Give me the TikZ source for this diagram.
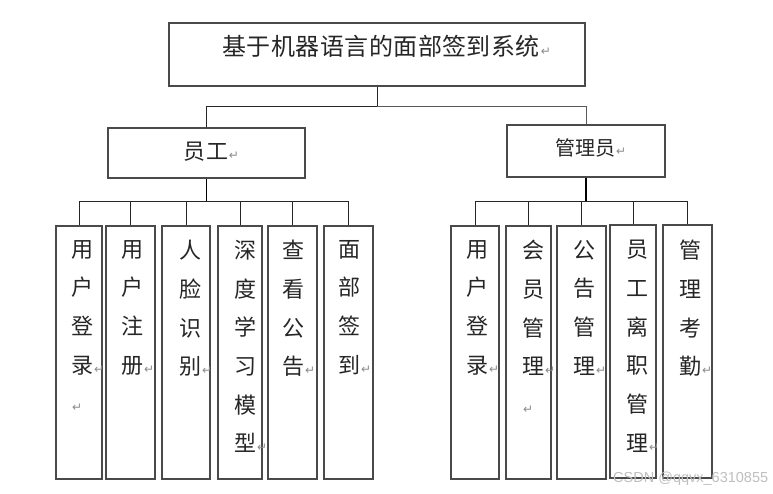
\documentclass[tikz,border=0pt]{standalone}
\usepackage{fontspec}
\newfontfamily\cjk{Noto Sans CJK SC}
\newfontfamily\cjkwide{Noto Sans CJK SC}[LetterSpace=4]
\newfontfamily\cjktitle{Noto Sans CJK SC}[LetterSpace=2]
\newfontfamily\symfont{DejaVu Sans}
\newfontfamily\markfont{Liberation Sans}
\definecolor{boxgray}{HTML}{4A4A4A}
\definecolor{retgray}{HTML}{8C8C8C}
\definecolor{inkgray}{HTML}{262626}
% paragraph mark after a line, taking no width
\newcommand\retmark{\rlap{\kern0.8pt{\symfont\fontsize{12}{12}\selectfont\color{retgray}↵}}}
\begin{document}
\begin{tikzpicture}[x=1pt,y=-1pt,
  box/.style={draw=boxgray,line width=1.2pt,rectangle,inner sep=0},
  link/.style={draw=black!85,line width=1pt},
  trunk/.style={draw=black,line width=1.6pt},
  every node/.append style={text=inkgray},
  vtext/.style={font=\cjk\fontsize{22}{38.7}\selectfont,align=left,anchor=north west,inner sep=0},
]
\useasboundingbox[fill=white] (0,0) rectangle (773,493);

% upper levels
\node[box,minimum width=416pt,minimum height=63pt] (root) at (377,54.5) {};
\node[font=\cjktitle\fontsize{24}{24}\selectfont,anchor=west,inner sep=0] (roottext) at (222,46) {基于机器语言的面部签到系统\retmark};

\node[box,minimum width=197pt,minimum height=50pt] (emp) at (206.5,153) {};
\node[font=\cjkwide\fontsize{22}{22}\selectfont,anchor=west,inner sep=0] (emptext) at (183,152) {员工\retmark};

\node[box,minimum width=158pt,minimum height=52pt] (adm) at (586,151) {};
\node[font=\cjk\fontsize{20}{20}\selectfont,anchor=west,inner sep=0] (admtext) at (555,148) {管理员\retmark};

% employee functions
\node[box,minimum width=46pt,minimum height=253pt] (e1) at (79,352.5) {};
\node[box,minimum width=49pt,minimum height=253pt] (e2) at (130.5,352.5) {};
\node[box,minimum width=48pt,minimum height=253pt] (e3) at (186,352.5) {};
\node[box,minimum width=44pt,minimum height=253pt] (e4) at (240,352.5) {};
\node[box,minimum width=49pt,minimum height=253pt] (e5) at (292.5,352.5) {};
\node[box,minimum width=49pt,minimum height=253pt] (e6) at (348.5,352.5) {};
\node[vtext] (te1) at (71,240) {用\\户\\登\\录\retmark\\\retmark};
\node[vtext] (te2) at (121,240) {用\\户\\注\\册\retmark};
\node[vtext] (te3) at (179,240) {人\\脸\\识\\别\retmark};
\node[vtext] (te4) at (234,240) {深\\度\\学\\习\\模\\型\retmark};
\node[vtext] (te5) at (282,240) {查\\看\\公\\告\retmark};
\node[vtext] (te6) at (338,240) {面\\部\\签\\到\retmark};

% administrator functions
\node[box,minimum width=48pt,minimum height=253pt] (a1) at (475,352.5) {};
\node[box,minimum width=45pt,minimum height=253pt] (a2) at (528.5,352.5) {};
\node[box,minimum width=49pt,minimum height=253pt] (a3) at (581.5,352.5) {};
\node[box,minimum width=46pt,minimum height=253pt] (a4) at (633,351.5) {};
\node[box,minimum width=49pt,minimum height=253pt] (a5) at (687.5,351.5) {};
\node[vtext] (ta1) at (466,240) {用\\户\\登\\录\retmark};
\node[vtext] (ta2) at (522,240) {会\\员\\管\\理\retmark\\\retmark};
\node[vtext] (ta3) at (573,240) {公\\告\\管\\理\retmark};
\node[vtext] (ta4) at (626,240) {员\\工\\离\\职\\管\\理\retmark};
\node[vtext] (ta5) at (679,240) {管\\理\\考\\勤\retmark};

% connectors
\coordinate (jroot) at (377,106);
\draw[link] (root.south) -- (jroot) -| (emp.north);
\draw[link,draw=black!65] (jroot) -| (adm.north);

\coordinate (jemp) at (206.5,201);
\draw[trunk] (emp.south) -- (jemp);
\foreach \n in {e1,e2,e3,e4,e5,e6} \draw[link] (jemp) -| (\n.north);

\coordinate (jadm) at (586,201);
\draw[trunk] (adm.south) -- (jadm);
\foreach \n in {a1,a2,a3,a4,a5} \draw[link] (jadm) -| (\n.north);

% watermark
\node[font=\markfont\fontsize{14.5}{14.5}\selectfont,text=black!25,anchor=west,inner sep=0] (mark) at (613,479) {CSDN @qqvx\_6310855};
\end{tikzpicture}
\end{document}
